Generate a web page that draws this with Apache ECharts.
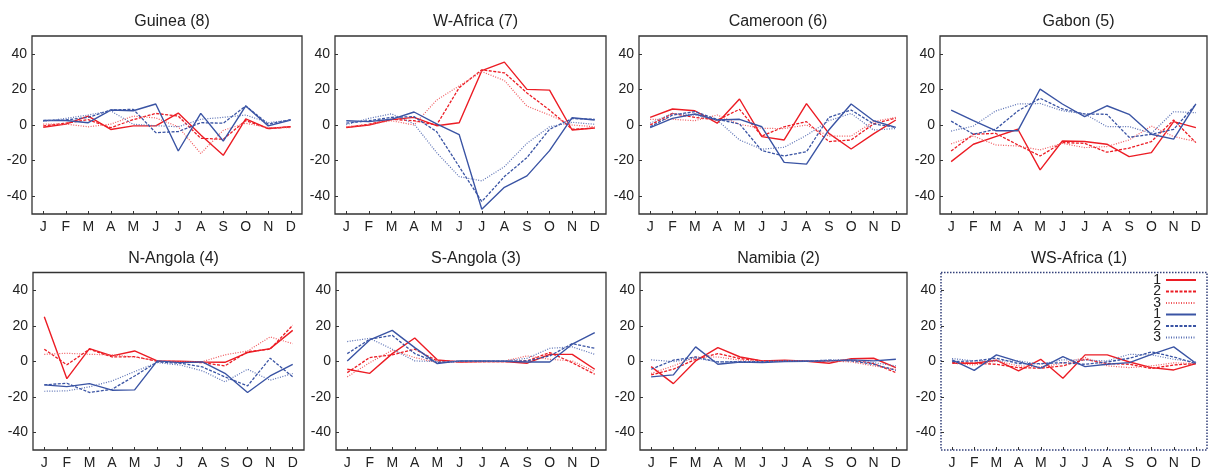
<!DOCTYPE html>
<html>
<head>
<meta charset="utf-8">
<script src="https://cdn.jsdelivr.net/npm/echarts@6/dist/echarts.min.js"></script>
<style>
html,body{margin:0;padding:0;background:#fff;}
#chart{width:1209px;height:470px;}
</style>
</head>
<body>
<div id="chart"></div>
<script>
// Month categories and tick labels
const months = ['J','F','M','A','M','J','J','A','S','O','N','D'];
const yTicks = [-40, -20, 0, 20, 40];
const seriesKeys = ['r1','r2','r3','b1','b2','b3'];
const legendLabels = ['1','2','3','1','2','3'];

// Each panel: [red1, red2, red3, blue1, blue2, blue3]
const guinea = [
  [-1.3, 0.5, 5, -2.5, -0.5, -0.5, 6.7, -5.6, -17, 3.4, -2, -1],
  [-0.5, 1, 3, -1.5, 3, 6.5, 5, -7.5, -8, 2.5, -2, -1],
  [0.5, 0.5, -1, 0.5, 5, 4, -1, -16, -3, 1, -1.5, -1.5],
  [2.5, 2.5, 1.3, 8.4, 8, 11.8, -14.6, 6.5, -9, 10.7, -0.5, 2.8],
  [2.5, 2.8, 4.3, 8.4, 8.8, -4.3, -3.7, 1.3, 1, 10.7, 0.5, 3],
  [2, 3.7, 5.6, 8, 0.4, -0.4, -1, 3.2, 4.3, 5.6, 1.3, 2.8]
];
const wAfrica = [
  [-1.5, 0, 3, 4.3, -0.4, 1.3, 30.5, 35.3, 20, 19.6, -2.8, -1.7],
  [-1.3, 0.4, 3.2, 2.4, 0, 21, 31, 29.3, 18, 8.4, -2.4, -1.7],
  [-1, 0.4, 2.4, 0, 14, 22, 30, 25, 10.6, 5.6, 0, -1],
  [2.4, 1.9, 3.2, 7.3, 0.6, -5.4, -47.3, -35, -28.6, -14.4, 4.1, 2.8],
  [1, 2.4, 4.3, 4.7, -3.7, -23.4, -43, -29, -18.3, -2.4, 3.6, 3.2],
  [0.2, 3.7, 6.3, 0.6, -15.5, -29, -31.4, -23.4, -10.3, -1, 1.5, 0.4]
];
const cameroon = [
  [4.3, 9, 8, 1, 14.6, -6.5, -8.4, 12, -4.7, -13.5, -5, 2.8],
  [0, 6.5, 4.3, 2.8, 8.8, -6.2, -1, 1.9, -9.3, -8.4, 0.6, 3.9],
  [3.2, 3.2, 2.4, 5.6, 0.4, -1.9, -2, 0, -6.2, -6.2, 1.9, 4.3],
  [-1.5, 3.7, 6.2, 2.8, 3.2, -1, -21, -22, -2.8, 11.8, 2.4, -1.3],
  [-1, 5.6, 7.5, 3.2, 0.6, -14.4, -17.4, -15, 4.3, 8.4, 0.6, -1.3],
  [1, 6.5, 5.6, 2.8, -8.4, -13.6, -12.5, -5.8, 2.4, 6.5, -2.8, -2]
];
const gabon = [
  [-20.6, -10.8, -6.5, -2.4, -25.2, -9, -9.3, -10.8, -17.8, -15.5, 1.9, -1.5],
  [-14.6, -5.2, -4.7, -11.2, -17.4, -9.9, -10.3, -15.3, -13, -9.3, 2.8, -9.9],
  [-10.6, -6.2, -11.2, -11.8, -14, -10.3, -12.7, -12.1, -8.4, -0.6, -6.5, -9.3],
  [8.4, 2.4, -3.2, -3.2, 20.2, 11.8, 4.7, 10.8, 6, -5.2, -7.9, 11.8],
  [2.2, -5.2, -2.4, 7.9, 15, 9, 6.2, 6, -6.9, -5.2, -2.4, 11.6],
  [-3.4, -0.6, 7.9, 11.8, 12.1, 8, 6.2, -0.9, -0.9, -4.7, 7.5, 6.9]
];
const nAngola = [
  [25.1, -9.8, 7.1, 3, 5.8, 0.2, 0, -0.4, -0.6, 4.9, 7.1, 17.4],
  [6.8, -2, 6.8, 2.4, 2.6, 0, -0.2, -0.8, -2.6, 5.4, 6.8, 20.3],
  [3.9, 4.5, 3.9, 3.6, 2.4, 0.2, -0.2, -0.2, 3.6, 5.8, 13.7, 9.9],
  [-13.3, -14.3, -12.6, -16.3, -16.1, 0.2, -0.8, -0.4, -6.8, -17.6, -8.3, -1.7],
  [-13.3, -12.4, -17.6, -15.8, -8.3, -0.4, -1.1, -3.2, -8.8, -13.9, 1.7, -8.8],
  [-16.9, -16.7, -14.4, -11.1, -5.8, -0.8, -2.1, -5.4, -11.6, -4.5, -10.7, -6.9]
];
const sAngola = [
  [-4.5, -6.8, 4.3, 13.1, 0.8, -0.4, -0.2, -0.2, -1.1, 3.9, 3.9, -4.5],
  [-6.4, 2.1, 3.6, 6.8, 0.2, -0.2, -0.2, -0.2, 0.2, 4.9, -0.8, -7.3],
  [-8.8, -0.8, 6.2, 2.1, -0.8, -0.3, -0.2, 0.2, 3, 1.1, 0.2, -5.8],
  [0.2, 12, 17.4, 7.7, -1.3, 0.2, 0.2, 0, -0.4, -0.4, 9.6, 16.1],
  [4.3, 12.4, 14.6, 4.3, -0.8, 0, 0, 0, 0.2, 3, 9.9, 7.3],
  [11.1, 12.9, 6.8, 0.2, -0.2, 0, 0, 0.2, 1.7, 7.3, 8.1, 3.9]
];
const namibia = [
  [-3, -12.6, 0.2, 7.7, 2.4, 0.2, 0.6, 0, -1.1, 1.5, 1.7, -3.6],
  [-7.7, -4.5, 1.1, 4.3, 1.5, 0.2, 0, 0, 0.2, 0.8, -1.3, -6.4],
  [-6.9, -2.6, 2.4, 2.4, 0.6, 0, 0, 0.2, 0.2, -0.4, -2.6, -4.5],
  [-8.8, -7.7, 8.1, -1.7, -0.4, -0.8, -0.2, 0, 0.2, 0.8, 0.2, 1.1],
  [-4.5, 0.6, 2.4, -0.4, -0.2, -0.2, 0, 0, 0.6, 0.2, -1.7, -5.1],
  [0.8, -0.2, 1.7, -0.4, -0.4, -0.2, 0.2, 0.2, 0.6, 0.9, -0.8, -2.6]
];
const wsAfrica = [
  [-1.1, -1.1, 0.6, -5.4, 1.1, -9.6, 3.6, 3.6, -0.4, -3.6, -4.9, -1.3],
  [-0.8, -1.1, -1.7, -3.6, -3.9, -2.6, 1.1, -1.3, -1.7, -4.1, -2.1, -1.3],
  [-1.1, -2.1, 0.2, -2.6, -3.2, -1.1, 2.1, -2.6, -3.6, -2.6, -0.9, -1.3],
  [0.8, -5.1, 3.6, -0.2, -3.9, 2.6, -3, -1.7, -0.8, 3.9, 8.1, -1.1],
  [-0.2, 0.2, 1.7, -1.3, -1.3, -0.8, -1.7, -0.4, 1.7, 5.3, 2.4, -1.3],
  [1.5, 0.2, 0.2, 0.2, -1.7, 0.8, 0.6, 0.2, 3.9, 3.6, 1.1, -0.4]
];

const panelTitles = ['Guinea (8)','W-Africa (7)','Cameroon (6)','Gabon (5)','N-Angola (4)','S-Angola (3)','Namibia (2)','WS-Africa (1)'];
const panelData = [guinea, wAfrica, cameroon, gabon, nAngola, sAngola, namibia, wsAfrica];

// layout (pixels)
const gridBoxes = [
  [32, 36, 270], [335, 36, 271], [639, 36, 268], [940, 36, 267],
  [33, 272.5, 271], [336, 272.5, 270], [640, 272.5, 267], [941, 272.5, 266]
];
const gridH = 178;
const RED = '#ec1c24', BLUE = '#3a54a4';
const styles = [
  {color: RED, type: 'solid', width: 1.4},
  {color: RED, type: [3, 1.5], width: 1.3},
  {color: '#f05a5e', type: [1, 1.5], width: 1.2},
  {color: BLUE, type: 'solid', width: 1.4},
  {color: BLUE, type: [3, 1.5], width: 1.3},
  {color: '#5a70b4', type: [1, 1.5], width: 1.2}
];

const font = 'Liberation Sans, Arial, Helvetica, sans-serif';
const grids = [], xAxes = [], yAxes = [], titles = [], series = [];
gridBoxes.forEach((g, i) => {
  const last = i === 7;
  grids.push({
    left: g[0], top: g[1], width: g[2], height: gridH, show: true,
    borderColor: last ? '#33407a' : '#333', borderWidth: last ? 1.5 : 1.3,
    borderType: last ? 'dotted' : 'solid', backgroundColor: 'transparent', containLabel: false
  });
  xAxes.push({
    type: 'category', gridIndex: i, data: months, boundaryGap: true, position: 'bottom',
    axisLine: {show: false, onZero: false},
    axisTick: {show: true, inside: true, length: 3, alignWithLabel: true, lineStyle: {color: '#333', width: 1}},
    axisLabel: {fontSize: 14, color: '#222', margin: 6, fontFamily: font, interval: 0},
    splitLine: {show: false}
  });
  yAxes.push({
    type: 'value', gridIndex: i, min: -50, max: 50, position: 'left',
    axisLine: {show: false, onZero: false},
    axisTick: {show: true, inside: true, length: 3, customValues: yTicks, lineStyle: {color: '#333', width: 1}},
    axisLabel: {fontSize: 14, color: '#222', margin: 5, fontFamily: font, customValues: yTicks},
    splitLine: {show: false}
  });
  titles.push({
    text: panelTitles[i], left: g[0] + g[2] / 2, textAlign: 'center',
    top: g[1] - 27,
    textStyle: {fontSize: 16, fontWeight: 'normal', color: '#222', fontFamily: font}
  });
  panelData[i].forEach((vals, k) => {
    series.push({
      name: seriesKeys[k], type: 'line', xAxisIndex: i, yAxisIndex: i,
      data: vals, symbol: 'none', animation: false,
      lineStyle: styles[k], itemStyle: {color: styles[k].color},
      z: 2 + k
    });
  });
});

const chart = echarts.init(document.getElementById('chart'));
chart.setOption({
  backgroundColor: '#fff',
  animation: false,
  title: titles,
  grid: grids,
  xAxis: xAxes,
  yAxis: yAxes,
  legend: {
    data: seriesKeys, orient: 'vertical', right: 12, top: 273, align: 'right',
    itemWidth: 30, itemHeight: 8, itemGap: -2.5, padding: 0,
    itemStyle: {opacity: 0},
    formatter: name => legendLabels[seriesKeys.indexOf(name)],
    textStyle: {fontSize: 14, lineHeight: 14, color: '#222', fontFamily: font, padding: 0},
    selectedMode: false
  },
  series: series
});
</script>
</body>
</html>
